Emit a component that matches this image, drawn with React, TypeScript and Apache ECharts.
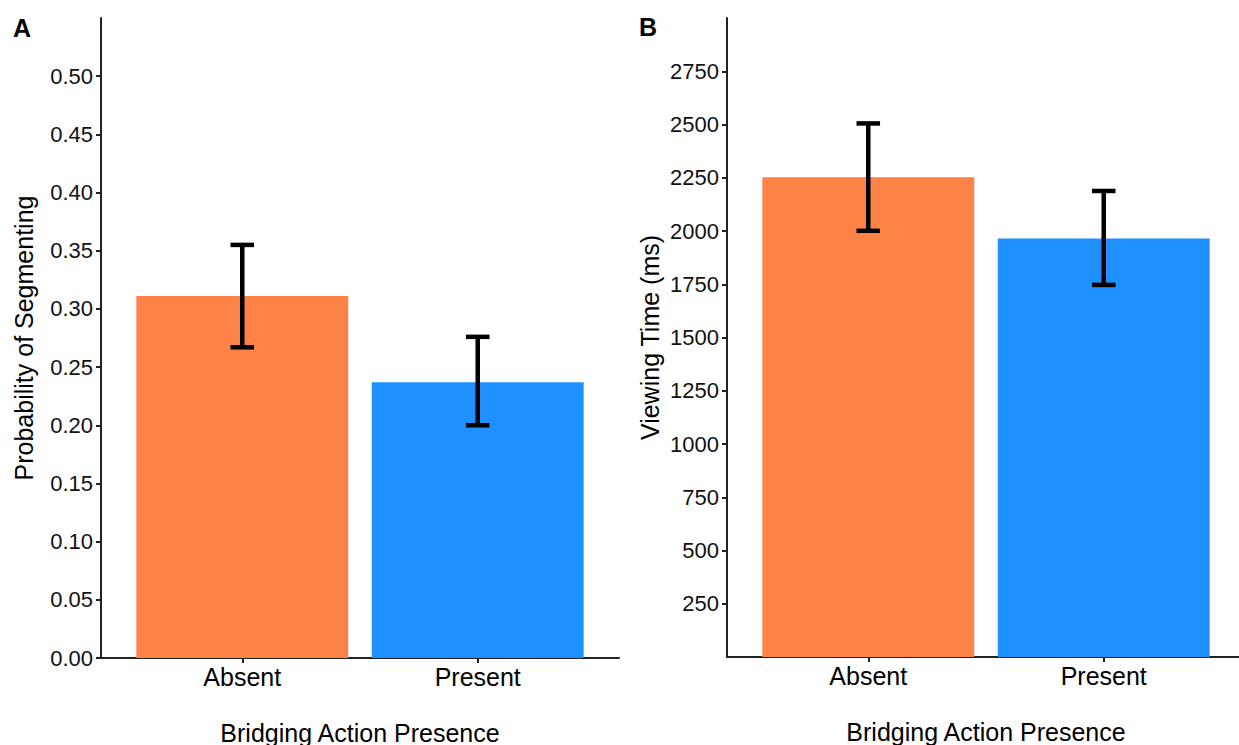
import React, { useEffect, useRef } from "react";
import * as echarts from "echarts";

const categories = ["Absent", "Present"];
const barColors = ["#FF8247", "#1E90FF"];

const probMeans = [0.311, 0.237];
const probLower = [0.267, 0.2];
const probUpper = [0.355, 0.276];

const viewMeans = [2252, 1965];
const viewLower = [2001, 1747];
const viewUpper = [2505, 2188];

const probTicks = [0, 0.05, 0.1, 0.15, 0.2, 0.25, 0.3, 0.35, 0.4, 0.45, 0.5];
const viewTicks = [250, 500, 750, 1000, 1250, 1500, 1750, 2000, 2250, 2500, 2750];

const FONT = "'Liberation Sans', Arial, sans-serif";
const AXIS_COLOR = "#222";

function barSeries(gridIndex: number, means: number[]) {
  return {
    type: "custom",
    xAxisIndex: gridIndex,
    yAxisIndex: gridIndex,
    data: means.map((m, i) => [i + 1, m, i]),
    renderItem: (params: any, api: any) => {
      const x = api.value(0);
      const v = api.value(1);
      const idx = api.value(2);
      const p1 = api.coord([x - 0.45, v]);
      const p2 = api.coord([x + 0.45, 0]);
      return {
        type: "rect",
        shape: { x: p1[0], y: p1[1], width: p2[0] - p1[0], height: p2[1] - p1[1] },
        style: { fill: barColors[idx] },
      };
    },
  };
}

function errorSeries(gridIndex: number, lower: number[], upper: number[]) {
  return {
    type: "custom",
    xAxisIndex: gridIndex,
    yAxisIndex: gridIndex,
    z: 5,
    data: lower.map((lo, i) => [i + 1, lo, upper[i]]),
    renderItem: (params: any, api: any) => {
      const x = api.value(0);
      const lo = api.value(1);
      const hi = api.value(2);
      const top = api.coord([x, hi]);
      const bot = api.coord([x, lo]);
      const tl = api.coord([x - 0.05, hi]);
      const tr = api.coord([x + 0.05, hi]);
      const bl = api.coord([x - 0.05, lo]);
      const br = api.coord([x + 0.05, lo]);
      const style = { stroke: "#000", lineWidth: 4.5 };
      return {
        type: "group",
        children: [
          { type: "line", shape: { x1: top[0], y1: top[1], x2: bot[0], y2: bot[1] }, style },
          { type: "line", shape: { x1: tl[0], y1: tl[1], x2: tr[0], y2: tr[1] }, style },
          { type: "line", shape: { x1: bl[0], y1: bl[1], x2: br[0], y2: br[1] }, style },
        ],
      };
    },
  };
}

function xAxisDef(gridIndex: number) {
  return {
    type: "value",
    gridIndex,
    min: 0.4,
    max: 2.6,
    name: "Bridging Action Presence",
    nameLocation: "middle",
    nameGap: 62,
    nameTextStyle: { fontFamily: FONT, fontSize: 25, color: "#000" },
    axisLine: { show: true, lineStyle: { color: AXIS_COLOR, width: 2 } },
    axisTick: { show: true, customValues: [1, 2], length: 5, lineStyle: { color: AXIS_COLOR, width: 2 } },
    axisLabel: {
      show: true,
      customValues: [1, 2],
      formatter: (v: number) => categories[Math.round(v) - 1] ?? "",
      fontFamily: FONT,
      fontSize: 25,
      color: "#000",
      margin: 6,
    },
    splitLine: { show: false },
  };
}

function yAxisDef(gridIndex: number, max: number, ticks: number[], name: string, fmt: (v: number) => string) {
  return {
    type: "value",
    gridIndex,
    min: 0,
    max,
    name,
    nameLocation: "middle",
    nameGap: 65,
    nameTextStyle: { fontFamily: FONT, fontSize: 25, color: "#000" },
    axisLine: { show: true, lineStyle: { color: AXIS_COLOR, width: 2 } },
    axisTick: { show: true, customValues: ticks, length: 5, lineStyle: { color: AXIS_COLOR, width: 2 } },
    axisLabel: {
      show: true,
      customValues: ticks,
      formatter: fmt,
      fontFamily: FONT,
      fontSize: 22,
      color: "#111",
      margin: 8,
    },
    splitLine: { show: false },
  };
}

export default function App() {
  const ref = useRef<HTMLDivElement>(null);
  useEffect(() => {
    if (!ref.current) return;
    const chart = echarts.init(ref.current, undefined, { renderer: "svg" });
    chart.setOption({
      animation: false,
      backgroundColor: "#fff",
      grid: [
        { left: 101, top: 18, width: 518, height: 640, containLabel: false, outerBoundsMode: "none" },
        { left: 727, top: 18, width: 518, height: 639, containLabel: false, outerBoundsMode: "none" },
      ],
      xAxis: [xAxisDef(0), xAxisDef(1)],
      yAxis: [
        yAxisDef(0, 0.55, probTicks, "Probability of Segmenting", (v: number) => v.toFixed(2)),
        yAxisDef(1, 3000, viewTicks, "Viewing Time (ms)", (v: number) => String(v)),
      ],
      graphic: [
        { type: "text", left: 13, top: 15, style: { text: "A", fontFamily: FONT, fontSize: 25, fontWeight: "bold", fill: "#000" } },
        { type: "text", left: 639, top: 14, style: { text: "B", fontFamily: FONT, fontSize: 25, fontWeight: "bold", fill: "#000" } },
      ],
      series: [
        barSeries(0, probMeans),
        errorSeries(0, probLower, probUpper),
        barSeries(1, viewMeans),
        errorSeries(1, viewLower, viewUpper),
      ],
    });
    return () => chart.dispose();
  }, []);
  return (
    <div
      ref={ref}
      style={{ position: "fixed", left: 0, top: 0, width: 1239, height: 745, background: "#fff" }}
    />
  );
}
